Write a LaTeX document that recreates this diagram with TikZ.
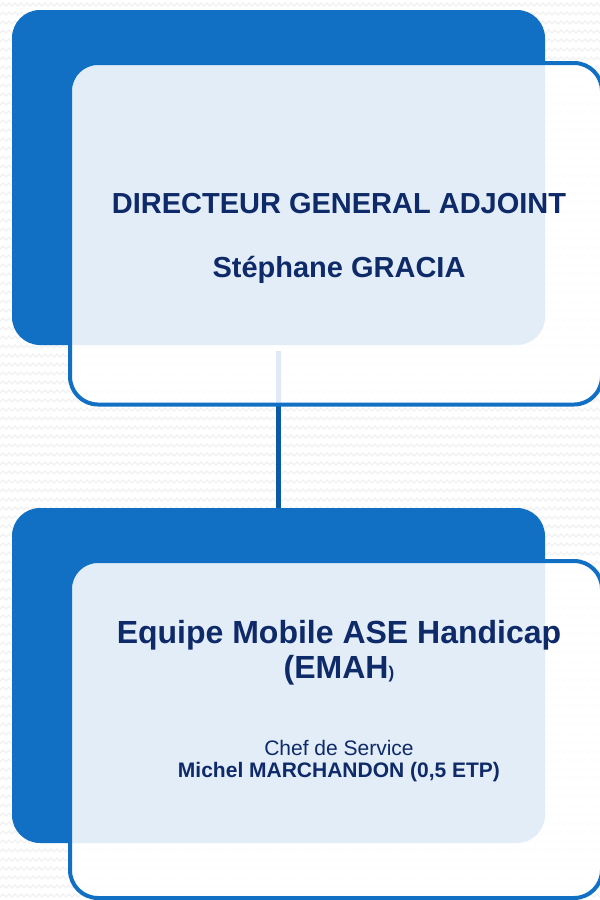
\documentclass[tikz,border=0pt]{standalone}
\usepackage{fontspec}
\setmainfont{Liberation Sans}
\usetikzlibrary{patterns}
\definecolor{boxblue}{HTML}{1170C4}
\definecolor{linkblue}{HTML}{0B5AA5}
\definecolor{navy}{HTML}{0F2A68}
\definecolor{zzgray}{HTML}{F1F1F1}
\pgfdeclarepatternformonly{zigzag}{\pgfqpoint{-1pt}{-1pt}}{\pgfqpoint{13pt}{10pt}}{\pgfqpoint{12pt}{9pt}}{%
  \pgfsetlinewidth{1.2pt}%
  \pgfpathmoveto{\pgfqpoint{0pt}{3pt}}%
  \pgfpathlineto{\pgfqpoint{3pt}{6pt}}%
  \pgfpathlineto{\pgfqpoint{6pt}{3pt}}%
  \pgfpathlineto{\pgfqpoint{9pt}{6pt}}%
  \pgfpathlineto{\pgfqpoint{12pt}{3pt}}%
  \pgfusepath{stroke}%
}
\tikzset{
  backbox/.style={draw=none, fill=boxblue, rounded corners=28pt, inner sep=0pt},
  frontbox/.style={draw=boxblue, line width=4pt, fill=white, fill opacity=0.88, draw opacity=1, rounded corners=28pt, inner sep=0pt},
  link/.style={draw=linkblue, line width=5pt},
  txt/.style={text=navy, inner sep=0pt, anchor=base},
}
\begin{document}
\begin{tikzpicture}[x=1pt, y=-1pt]
\useasboundingbox (0,0) rectangle (600,900);
\fill[white] (0,0) rectangle (600,900);
\fill[pattern=zigzag, pattern color=zzgray] (0,0) rectangle (600,900);
% back boxes
\node[backbox, minimum width=533pt, minimum height=335pt] (b1) at (278.5,177.5) {};
\node[backbox, minimum width=533pt, minimum height=335pt] (b2) at (278.5,675.5) {};
% connector
\draw[link, shorten <=6pt] (b1.south) -- (b2.north);
% front boxes
\node[frontbox, minimum width=532pt, minimum height=341.5pt] (f1) at (336,233.75) {};
\node[frontbox, minimum width=532pt, minimum height=337pt] (f2) at (336,729.5) {};
% texts
\node[txt, font=\bfseries\fontsize{29}{34}\selectfont] (t1) at (339,213.5) {DIRECTEUR GENERAL ADJOINT};
\node[txt, font=\bfseries\fontsize{29}{34}\selectfont] (t2) at (339,277) {Stéphane GRACIA};
\node[txt, font=\bfseries\fontsize{32}{38}\selectfont] (t3) at (339,643.5) {Equipe Mobile ASE Handicap};
\node[txt, font=\bfseries\fontsize{32}{38}\selectfont] (t4) at (339,678) {(EMAH{\fontsize{17}{20}\selectfont)}};
\node[txt, font=\fontsize{21}{25}\selectfont] (t5) at (339,755.5) {Chef de Service};
\node[txt, font=\bfseries\fontsize{21}{25}\selectfont] (t6) at (339,777.5) {Michel MARCHANDON (0,5 ETP)};
\end{tikzpicture}
\end{document}
